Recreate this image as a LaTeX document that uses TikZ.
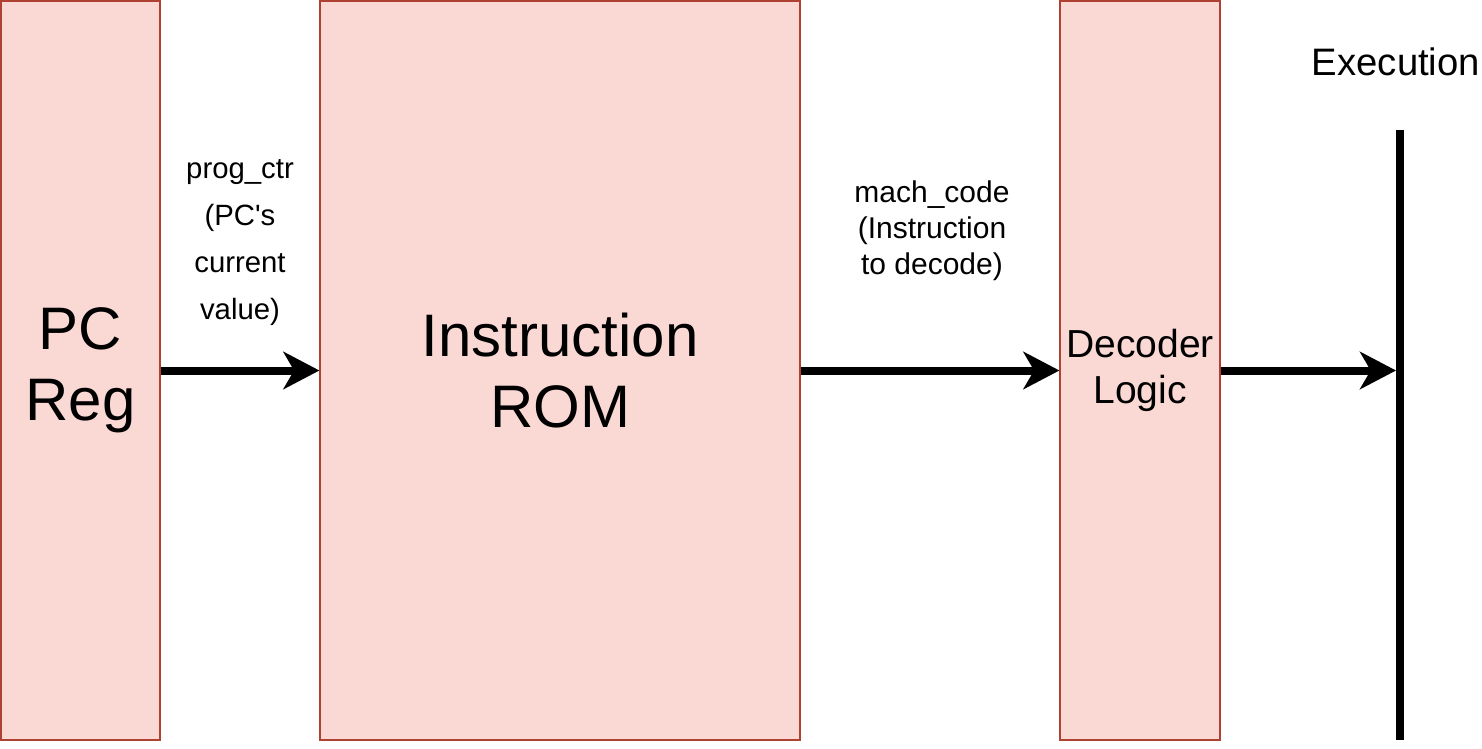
\documentclass[tikz,border=0pt]{standalone}
\usepackage{fontspec}
\setmainfont{Liberation Sans}
\usetikzlibrary{arrows.meta}
\definecolor{boxfill}{HTML}{FAD9D5}
\definecolor{boxline}{HTML}{AE4132}
\tikzset{
  block/.style={draw=boxline, fill=boxfill, line width=0.9pt, inner sep=0pt, minimum height=554.25pt, align=center},
  bigtext/.style={font=\fontsize{45}{53}\selectfont},
  midtext/.style={font=\fontsize{29.3}{34}\selectfont},
  flow/.style={line width=6pt, -{Stealth[length=27pt, width=28pt, inset=8pt]}},
  lbl/.style={align=center, inner sep=0pt}
}
\begin{document}
\begin{tikzpicture}[x=0.75pt, y=-0.75pt]
\useasboundingbox (0,0) rectangle (1482,749);
\node[block, bigtext, minimum width=119.25pt] (pc) at (80.5,370.5) {PC\\Reg};
\node[block, bigtext, minimum width=360pt] (rom) at (560,370.5) {Instruction\\ROM};
\node[block, midtext, minimum width=120pt] (dec) at (1140,370.5) {Decoder\\Logic};
\coordinate (extop) at (1400,130);
\coordinate (exbot) at (1400,740);
\coordinate (exin) at (1396,370.5);
\draw[line width=6pt] (extop) -- (exbot);
\node[lbl, font=\fontsize{28.7}{34}\selectfont] (exlbl) at (1396,62) {Execution};
\draw[flow] (pc.east) -- (rom.west);
\draw[flow] (rom.east) -- (dec.west);
\draw[flow] (dec.east) -- (exin);
\node[lbl, font=\fontsize{22}{35.25}\selectfont] (pclbl) at (240,243) {prog\_ctr\\(PC\textquotesingle s\\current\\value)};
\node[lbl, font=\fontsize{22.5}{27}\selectfont] (mclbl) at (932,231) {mach\_code\\(Instruction\\to decode)};
\end{tikzpicture}
\end{document}
